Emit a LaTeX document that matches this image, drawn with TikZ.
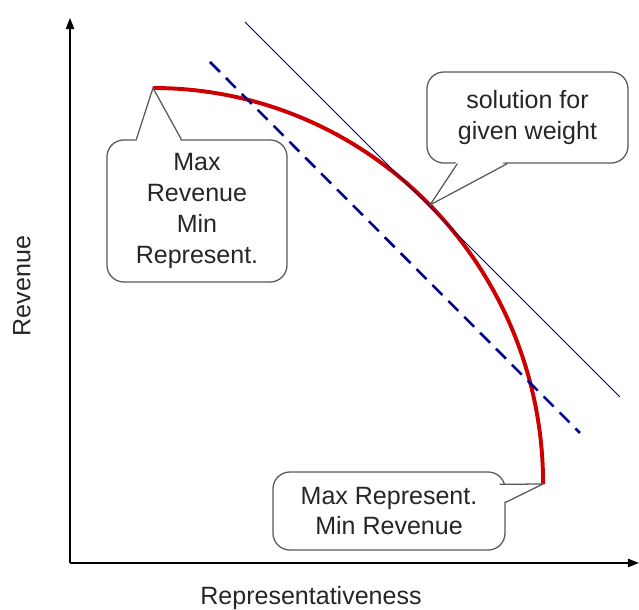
\documentclass[tikz,border=0pt]{standalone}
\usepackage{fontspec}
\setmainfont{Liberation Sans}
\usetikzlibrary{arrows.meta,calc}
\begin{document}
\begin{tikzpicture}[x=0.025cm,y=0.025cm,
  axis/.style={line width=1.1pt,-{Triangle[length=8pt,width=6pt]}},
  bubble/.style={draw=black!65,line width=0.9pt,fill=white,rounded corners=12pt,align=center,
    text=black!85,font=\fontsize{17.8}{22}\selectfont},
  tail/.style={draw=black!65,line width=0.9pt,fill=white},
  front/.style={draw=red!80!black,line width=2.8pt},
  optline/.style={draw=blue!55!black,line width=0.7pt},
  isoline/.style={draw=blue!55!black,line width=1.8pt,dash pattern=on 10pt off 6pt},
  lbl/.style={text=black!85,font=\fontsize{17.8}{22}\selectfont}]
  \useasboundingbox (0,0) rectangle (639,610);
  % axes
  \coordinate (o) at (70,47);
  \coordinate (ytop) at (70,592);
  \coordinate (xend) at (639,47);
  \draw[axis] (o) -- (ytop);
  \draw[axis] (o) -- (xend);
  \node[lbl] (xlab) at (311,12) {Representativeness};
  \node[lbl,rotate=90] (ylab) at (22,324) {Revenue};
  % pareto front
  \coordinate (maxrev) at (153,522);
  \coordinate (maxrep) at (543,126);
  \draw[front] (maxrev) arc[start angle=90,end angle=0,x radius=9.75cm,y radius=9.9cm];
  \coordinate (sol) at (430,405);
  % weight lines
  \coordinate (a1) at (245,588);
  \coordinate (a2) at (620,213);
  \coordinate (b1) at (210,548);
  \coordinate (b2) at (580,177);
  \draw[optline] (a1) -- (a2);
  \draw[isoline] (b1) -- (b2);
  % callouts
  \node[bubble,minimum width=4.5cm,minimum height=3.55cm] (mr) at (197,399) {Max\\Revenue\\Min\\Represent.};
  \node[bubble,minimum width=5.025cm,minimum height=2.275cm] (sw) at (527.5,492.5) {solution for\\given weight};
  \node[bubble,minimum width=5.8cm,minimum height=1.95cm] (mp) at (389,99) {Max Represent.\\Min Revenue};
  \fill[white] ($(mr.north west)+(30,-3)$) -- (maxrev) -- ($(mr.north west)+(75,-3)$) -- cycle;
  \draw[tail,fill=none] ($(mr.north west)+(30,0)$) -- (maxrev) -- ($(mr.north west)+(75,0)$);
  \fill[white] ($(sw.south west)+(31,3)$) -- (sol) -- ($(sw.south west)+(81,3)$) -- cycle;
  \draw[tail,fill=none] ($(sw.south west)+(31,0)$) -- (sol) -- ($(sw.south west)+(81,0)$);
  \fill[white] ($(mp.north east)+(-3,-13)$) -- (maxrep) -- ($(mp.north east)+(-3,-31)$) -- cycle;
  \draw[tail,fill=none] ($(mp.north east)+(-6,-13)$) -- (maxrep) -- ($(mp.north east)+(0,-31)$);
\end{tikzpicture}
\end{document}
